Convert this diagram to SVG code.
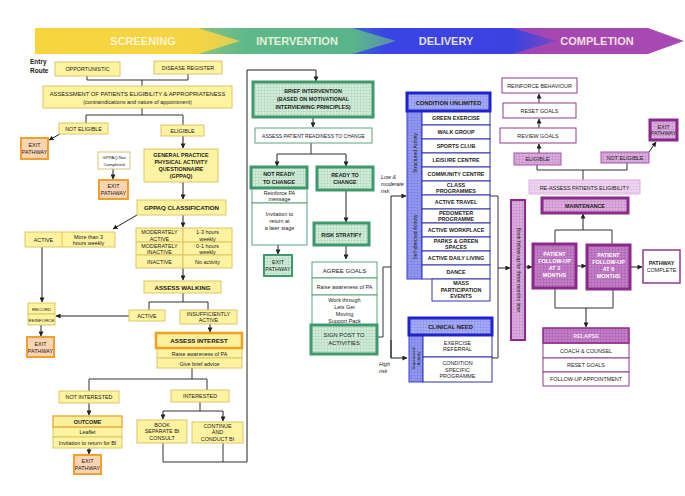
<svg xmlns="http://www.w3.org/2000/svg" width="685" height="496" viewBox="0 0 685 496">
<defs>
<style>
.t{font-family:'Liberation Sans',Arial,sans-serif;font-size:5.4px;text-anchor:middle;fill:#222}
.b{font-weight:bold}
.s{font-size:4.4px}
.hd{font-family:'Liberation Sans',Arial,sans-serif;font-size:11px;font-weight:bold;text-anchor:middle;fill:#fffbe6;opacity:.85}
.ln{fill:none;stroke:#333;stroke-width:1}
.ar{fill:none;stroke:#222;stroke-width:1;marker-end:url(#ah)}
.y{fill:#fdf3a0;stroke:#dcc766;stroke-width:1}
.yo{fill:#fdf09a;stroke:#f0a020;stroke-width:2.5}
.ex{fill:#fbd4b2;stroke:#f0a030;stroke-width:2}
.gw{fill:#fff;stroke:#5aa47e;stroke-width:1}
.gt{fill:url(#gG);stroke:#3e9a6c;stroke-width:3}
.bw{fill:#fff;stroke:#3434a6;stroke-width:1}
.bt{fill:url(#gB);stroke:#1e22d0;stroke-width:3}
.bs{fill:url(#gBs);stroke:#3b3fd8;stroke-width:1}
.pw{fill:#fff;stroke:#8c3c8c;stroke-width:1}
.pt{fill:url(#gP);stroke:#8a2a8a;stroke-width:3}
.pd{fill:url(#gPd);stroke:#8a2a8a;stroke-width:3}
.pl{fill:url(#gPl);stroke:#dcb2e0;stroke-width:1}
.pm{fill:url(#gP);stroke:#a552aa;stroke-width:1}
</style>
<marker id="ah" viewBox="0 0 6 6" refX="5.5" refY="3" markerWidth="5" markerHeight="5" orient="auto"><path d="M0,0 L6,3 L0,6 z" fill="#222"/></marker>
<pattern id="gG" width="3" height="3" patternUnits="userSpaceOnUse"><rect width="3" height="3" fill="#d2ecd9"/><path d="M0,0.25H3M0.25,0V3" stroke="#9fd0b2" stroke-width="0.5"/></pattern>
<pattern id="gB" width="3" height="3" patternUnits="userSpaceOnUse"><rect width="3" height="3" fill="#a6acf2"/><path d="M0,0.25H3M0.25,0V3" stroke="#7c82e6" stroke-width="0.5"/></pattern>
<pattern id="gBs" width="3" height="3" patternUnits="userSpaceOnUse"><rect width="3" height="3" fill="#9298ee"/><path d="M0,0.25H3M0.25,0V3" stroke="#6f75e0" stroke-width="0.5"/></pattern>
<pattern id="gP" width="3" height="3" patternUnits="userSpaceOnUse"><rect width="3" height="3" fill="#dbaedd"/><path d="M0,0.25H3M0.25,0V3" stroke="#bb83c0" stroke-width="0.5"/></pattern>
<pattern id="gPd" width="3" height="3" patternUnits="userSpaceOnUse"><rect width="3" height="3" fill="#c37ec7"/><path d="M0,0.25H3M0.25,0V3" stroke="#a256a8" stroke-width="0.5"/></pattern>
<pattern id="gPl" width="3" height="3" patternUnits="userSpaceOnUse"><rect width="3" height="3" fill="#efd6f0"/><path d="M0,0.25H3M0.25,0V3" stroke="#dcb6e0" stroke-width="0.5"/></pattern>
<linearGradient id="lgY" x1="0" x2="1" y1="0" y2="0"><stop offset="0" stop-color="#f8d43e"/><stop offset="0.8" stop-color="#f5d444"/><stop offset="1" stop-color="#d8cf58"/></linearGradient>
<linearGradient id="lgG" x1="0" x2="1" y1="0" y2="0"><stop offset="0" stop-color="#8cc47e"/><stop offset="0.25" stop-color="#5fb88a"/><stop offset="0.8" stop-color="#58b48c"/><stop offset="1" stop-color="#5a8ab8"/></linearGradient>
<linearGradient id="lgB" x1="0" x2="1" y1="0" y2="0"><stop offset="0" stop-color="#3a70c8"/><stop offset="0.2" stop-color="#3a44e4"/><stop offset="0.8" stop-color="#3c42e0"/><stop offset="1" stop-color="#7a48c0"/></linearGradient>
<linearGradient id="lgP" x1="0" x2="1" y1="0" y2="0"><stop offset="0" stop-color="#8a46c0"/><stop offset="0.25" stop-color="#a646b0"/><stop offset="1" stop-color="#a84ab4"/></linearGradient>
</defs>
<rect width="685" height="496" fill="#fff"/>

<g id="banner">
<polygon points="500,28 648,28 684,41 648,54 500,54 520,41" fill="url(#lgP)"/>
<polygon points="345,28 512,28 556,41 512,54 345,54 365,41" fill="url(#lgB)"/>
<polygon points="195,28 352,28 396,41 352,54 195,54 215,41" fill="url(#lgG)"/>
<polygon points="35,28 198,28 240,41 198,54 35,54" fill="url(#lgY)"/>
<text class="hd" x="143" y="45">SCREENING</text>
<text class="hd" x="297" y="45">INTERVENTION</text>
<text class="hd" x="446" y="45">DELIVERY</text>
<text class="hd" x="597" y="45">COMPLETION</text>
</g>

<g id="connectors">
<path class="ln" d="M87,76V80H188V74M142,80V86"/>
<path class="ln" d="M142,108V115M86,123V115H183V125"/>
<path class="ar" d="M60,134L49,140"/>
<path class="ar" d="M183,136V148"/>
<path class="ar" d="M113,169V179"/>
<path class="ar" d="M183,182V199"/>
<path class="ar" d="M137,215L113,229"/>
<path class="ar" d="M183,215V227"/>
<path class="ar" d="M183,268V280"/>
<path class="ln" d="M183,293V302M149,310V302H208V310"/>
<path class="ar" d="M129,316H56"/>
<path class="ar" d="M42,247V302"/>
<path class="ar" d="M41,325V336"/>
<path class="ar" d="M210,324V332"/>
<path class="ln" d="M192,368V379H89V391M192,379H207V390"/>
<path class="ar" d="M89,403V415"/>
<path class="ar" d="M89,448V454"/>
<path class="ln" d="M200,402V411H163M200,411H223"/>
<path class="ar" d="M163,411V419"/>
<path class="ar" d="M223,411V421"/>
<path class="ln" d="M163,443V462H247M223,443V462"/>
<path class="ar" d="M247,462V70H316V81"/>
<path class="ar" d="M313,117V127"/>
<path class="ln" d="M311,143V154H277M311,154H346"/>
<path class="ar" d="M277,154V166"/>
<path class="ar" d="M346,154V166"/>
<path class="ar" d="M278,245V254"/>
<path class="ar" d="M346,190V222"/>
<path class="ar" d="M346,245V259"/>
<path class="ln" d="M377,337H383V267H391"/>
<path class="ar" d="M391,358V196H406"/>
<path class="ar" d="M391,340V358H407"/>
<path class="ln" d="M490,196H498V358H492"/>
<path class="ar" d="M498,268H510"/>
<path class="ar" d="M525,267H532"/>
<path class="ar" d="M576,266H586"/>
<path class="ar" d="M630,267H642"/>
<path class="ln" d="M555,244V230H612V245"/>
<path class="ar" d="M583,230V214"/>
<path class="ln" d="M555,288V308H613V289"/>
<path class="ar" d="M586,308V327"/>
<path class="ln" d="M583,180V170M537,165V170H627V163"/>
<path class="ar" d="M649,152L656,142"/>
<path class="ar" d="M539,153V144"/>
<path class="ar" d="M539,128V119"/>
<path class="ar" d="M539,103V94"/>
</g>

<g id="entry-route">
<text class="t b" x="30" y="64" style="text-anchor:start;font-size:6.5px">Entry</text>
<text class="t b" x="30" y="73" style="text-anchor:start;font-size:6.5px">Route</text>
</g>
<g id="opportunistic"><rect class="y" x="55" y="62" width="65" height="14"/><text class="t" x="87.5" y="71">OPPORTUNISTIC</text></g>
<g id="disease-register"><rect class="y" x="154" y="61" width="68" height="13"/><text class="t" x="188" y="69.5">DISEASE REGISTER</text></g>
<g id="assessment"><rect class="y" x="43" y="86" width="189" height="22"/><text class="t" x="137.5" y="95.5" style="font-size:5.8px">ASSESSMENT OF PATIENTS ELIGIBILITY &amp; APPROPRIATENESS</text><text class="t" x="137.5" y="103.5">(contraindications and nature of appointment)</text></g>
<g id="not-eligible"><rect class="y" x="59" y="123" width="49" height="11"/><text class="t" x="83.5" y="130.5">NOT ELIGIBLE</text></g>
<g id="eligible"><rect class="y" x="161" y="125" width="43" height="11"/><text class="t" x="182.5" y="132.5">ELIGIBLE</text></g>
<g id="exit1"><rect class="ex" x="21" y="138" width="27" height="21"/><text class="t" x="34.5" y="147">EXIT</text><text class="t" x="34.5" y="154">PATHWAY</text></g>
<g id="gppaq"><rect class="y" x="144" y="149" width="74" height="33"/><text class="t b" x="181" y="157">GENERAL PRACTICE</text><text class="t b" x="181" y="164">PHYSICAL ACTIVITY</text><text class="t b" x="181" y="171">QUESTIONNAIRE</text><text class="t b" x="181" y="178">(GPPAQ)</text></g>
<g id="gppaq-not"><rect x="98" y="152" width="32" height="17" fill="#fff" stroke="#d8c27a"/><text class="t s" x="114" y="159">GPPAQ Not</text><text class="t s" x="114" y="165.5">Completed</text></g>
<g id="exit2"><rect class="ex" x="99" y="180" width="29" height="19"/><text class="t" x="113.5" y="188">EXIT</text><text class="t" x="113.5" y="195">PATHWAY</text></g>
<g id="gppaq-class"><rect class="y" x="137" y="200" width="89" height="15"/><text class="t b" x="181.5" y="210" style="font-size:6.2px">GPPAQ CLASSIFICATION</text></g>
<g id="active-more"><rect class="y" x="25" y="232" width="90" height="15"/><line x1="62" y1="232" x2="62" y2="247" stroke="#dcc766"/><text class="t" x="43.5" y="241.5">ACTIVE</text><text class="t" x="88.5" y="238.5">More than 3</text><text class="t" x="88.5" y="245">hours weekly</text></g>
<g id="classification">
<rect class="y" x="136" y="228" width="47" height="14"/><rect class="y" x="183" y="228" width="49" height="14"/>
<rect class="y" x="136" y="242" width="47" height="13"/><rect class="y" x="183" y="242" width="49" height="13"/>
<rect class="y" x="136" y="255" width="47" height="13"/><rect class="y" x="183" y="255" width="49" height="13"/>
<text class="t" x="159.5" y="234">MODERATELY</text><text class="t" x="159.5" y="240.5">ACTIVE</text>
<text class="t" x="207.5" y="234">1-3 hours</text><text class="t" x="207.5" y="240.5">weekly</text>
<text class="t" x="159.5" y="247.5">MODERATELY</text><text class="t" x="159.5" y="253.5">INACTIVE</text>
<text class="t" x="207.5" y="247.5">0-1 hours</text><text class="t" x="207.5" y="253.5">weekly</text>
<text class="t" x="159.5" y="263.5">INACTIVE</text><text class="t" x="207.5" y="263.5">No activity</text>
</g>
<g id="assess-walking"><rect class="y" x="144" y="281" width="77" height="12"/><text class="t b" x="182.5" y="289.5" style="font-size:6.2px">ASSESS WALKING</text></g>
<g id="walk-active"><rect class="y" x="129" y="310" width="36" height="11"/><text class="t" x="147" y="317.5">ACTIVE</text></g>
<g id="insufficiently"><rect class="y" x="180" y="310" width="57" height="14"/><text class="t" x="208.5" y="316">INSUFFICIENTLY</text><text class="t" x="208.5" y="322">ACTIVE</text></g>
<g id="record"><rect class="y" x="28" y="303" width="27" height="11"/><rect class="y" x="28" y="314" width="27" height="11"/><text class="t s" x="41.5" y="310.5">RECORD</text><text class="t s" x="41.5" y="321.5">REINFORCE</text></g>
<g id="exit3"><rect class="ex" x="27" y="337" width="27" height="20"/><text class="t" x="40.5" y="345.5">EXIT</text><text class="t" x="40.5" y="352.5">PATHWAY</text></g>
<g id="assess-interest"><rect class="y" x="157" y="348" width="85" height="10"/><rect class="y" x="157" y="358" width="85" height="10"/><rect class="yo" x="156" y="333" width="86" height="15"/><text class="t b" x="199" y="343" style="font-size:6.2px">ASSESS INTEREST</text><text class="t" x="199.5" y="355.5">Raise awareness of PA</text><text class="t" x="199.5" y="365.5">Give brief advice</text></g>
<g id="not-interested"><rect class="y" x="59" y="391" width="60" height="12"/><text class="t" x="89" y="399">NOT INTERESTED</text></g>
<g id="interested"><rect class="y" x="171" y="390" width="58" height="12"/><text class="t" x="200" y="398">INTERESTED</text></g>
<g id="outcome"><rect class="y" x="53" y="427" width="69" height="10"/><rect class="y" x="53" y="437" width="69" height="11"/><rect x="53" y="416" width="69" height="11" fill="#fdf09a" stroke="#eeae46" stroke-width="1.5"/><text class="t b" x="87.5" y="424">OUTCOME</text><text class="t" x="87.5" y="434">Leaflet</text><text class="t" x="87.5" y="444.5">Invitation to return for BI</text></g>
<g id="exit4"><rect class="ex" x="74" y="455" width="27" height="19"/><text class="t" x="87.5" y="463">EXIT</text><text class="t" x="87.5" y="470">PATHWAY</text></g>
<g id="book"><rect class="y" x="137" y="420" width="50" height="23"/><text class="t" x="162" y="426.5">BOOK</text><text class="t" x="162" y="433">SEPARATE BI</text><text class="t" x="162" y="439.5">CONSULT</text></g>
<g id="continue"><rect class="y" x="192" y="422" width="51" height="21"/><text class="t" x="217.5" y="428">CONTINUE</text><text class="t" x="217.5" y="434">AND</text><text class="t" x="217.5" y="440.5">CONDUCT BI</text></g>

<g id="brief-intervention"><rect class="gt" x="253" y="82" width="120" height="35"/><text class="t b" x="313" y="93">BRIEF INTERVENTION</text><text class="t b" x="313" y="101">(BASED ON MOTIVATIONAL</text><text class="t b" x="313" y="109">INTERVIEWING PRINCIPLES)</text></g>
<g id="readiness"><rect class="gw" x="255" y="128" width="117" height="15"/><text class="t" x="313.5" y="137.5" style="font-size:5px">ASSESS PATIENT READINESS TO CHANGE</text></g>
<g id="not-ready"><rect class="gw" x="252" y="188" width="55" height="15"/><rect class="gw" x="252" y="203" width="55" height="42"/><rect class="gt" x="251" y="167" width="56" height="21"/><text class="t b" x="279" y="176">NOT READY</text><text class="t b" x="279" y="183.5">TO CHANGE</text><text class="t" x="279.5" y="194.5">Reinforce PA</text><text class="t" x="279.5" y="201">message</text><text class="t" x="279.5" y="216">Invitation to</text><text class="t" x="279.5" y="223">return at</text><text class="t" x="279.5" y="230">a later stage</text></g>
<g id="exit5"><rect x="264" y="255" width="28" height="21" fill="url(#gG)" stroke="#3e9a6c" stroke-width="2"/><text class="t" x="278" y="264">EXIT</text><text class="t" x="278" y="271">PATHWAY</text></g>
<g id="ready"><rect class="gt" x="317" y="167" width="56" height="23"/><text class="t b" x="345" y="176.5">READY TO</text><text class="t b" x="345" y="184">CHANGE</text></g>
<g id="risk-stratify"><rect class="gt" x="314" y="223" width="55" height="22"/><text class="t b" x="341.5" y="236.5">RISK STRATIFY</text></g>
<g id="agree-goals"><rect class="gw" x="312" y="262" width="65" height="16"/><rect class="gw" x="312" y="278" width="65" height="17"/><rect class="gw" x="312" y="295" width="65" height="30"/><text class="t" x="344.5" y="272.5" style="font-size:6px">AGREE GOALS</text><text class="t" x="344.5" y="289">Raise awareness of PA</text><text class="t" x="344.5" y="302">Work through</text><text class="t" x="344.5" y="309">Lets Get</text><text class="t" x="344.5" y="316">Moving</text><text class="t" x="344.5" y="323">Support Pack</text></g>
<g id="sign-post"><rect class="gt" x="311" y="325" width="66" height="29"/><text class="t" x="344" y="337" style="font-size:5.8px">SIGN POST TO</text><text class="t" x="344" y="345" style="font-size:5.8px">ACTIVITIES</text></g>
<g id="risk-labels">
<text class="t" x="381" y="179" style="text-anchor:start;font-style:italic">Low &amp;</text>
<text class="t" x="381" y="186" style="text-anchor:start;font-style:italic">moderate</text>
<text class="t" x="381" y="193" style="text-anchor:start;font-style:italic">risk</text>
<text class="t" x="379" y="366" style="text-anchor:start;font-style:italic">High</text>
<text class="t" x="379" y="373" style="text-anchor:start;font-style:italic">risk</text>
</g>

<g id="condition-unlimited">
<rect class="bs" x="407" y="111" width="15" height="168"/>
<text class="t" transform="translate(416.5,153) rotate(-90)" style="font-size:5px">Structured Activity</text>
<text class="t" transform="translate(416.5,237) rotate(-90)" style="font-size:5px">Self-directed Activity</text>
<rect class="bw" x="422" y="111" width="68" height="14"/><text class="t b" x="456" y="120">GREEN EXERCISE</text>
<rect class="bw" x="422" y="125" width="68" height="14"/><text class="t b" x="456" y="134">WALK GROUP</text>
<rect class="bw" x="422" y="139" width="68" height="14"/><text class="t b" x="456" y="148">SPORTS CLUB</text>
<rect class="bw" x="422" y="153" width="68" height="14"/><text class="t b" x="456" y="162">LEISURE CENTRE</text>
<rect class="bw" x="422" y="167" width="68" height="14"/><text class="t b" x="456" y="176">COMMUNITY CENTRE</text>
<rect class="bw" x="422" y="181" width="68" height="14"/><text class="t b" x="456" y="186.5">CLASS</text><text class="t b" x="456" y="192.5">PROGRAMMES</text>
<rect class="bw" x="422" y="195" width="68" height="14"/><text class="t b" x="456" y="204">ACTIVE TRAVEL</text>
<rect class="bw" x="422" y="209" width="68" height="14"/><text class="t b" x="456" y="214.5">PEDOMETER</text><text class="t b" x="456" y="220.5">PROGRAMME</text>
<rect class="bw" x="422" y="223" width="68" height="14"/><text class="t b" x="456" y="232">ACTIVE WORKPLACE</text>
<rect class="bw" x="422" y="237" width="68" height="14"/><text class="t b" x="456" y="242.5">PARKS &amp; GREEN</text><text class="t b" x="456" y="248.5">SPACES</text>
<rect class="bw" x="422" y="251" width="68" height="14"/><text class="t b" x="456" y="260">ACTIVE DAILY LIVING</text>
<rect class="bw" x="422" y="265" width="68" height="14"/><text class="t b" x="456" y="274">DANCE</text>
<rect class="bt" x="407" y="93" width="83" height="18"/><text class="t b" x="448.5" y="104.5" style="font-size:5.8px">CONDITION UNLIMITED</text>
</g>
<g id="mass-participation"><rect class="bw" x="432" y="279" width="58" height="22"/><text class="t b" x="461" y="285">MASS</text><text class="t b" x="461" y="291.5">PARTICIPATION</text><text class="t b" x="461" y="298">EVENTS</text></g>
<g id="clinical-need">
<rect class="bs" x="409" y="335" width="14" height="47"/>
<text class="t" transform="translate(415,358.5) rotate(-90)" style="font-size:4.4px">Supervised</text>
<text class="t" transform="translate(420,358.5) rotate(-90)" style="font-size:4.4px">Activity</text>
<rect class="bw" x="423" y="335" width="69" height="22"/><text class="t" x="457.5" y="344.5">EXERCISE</text><text class="t" x="457.5" y="351">REFERRAL</text>
<rect class="bw" x="423" y="357" width="69" height="25"/><text class="t" x="457.5" y="365">CONDITION</text><text class="t" x="457.5" y="371.5">SPECIFIC</text><text class="t" x="457.5" y="378">PROGRAMME</text>
<rect class="bt" x="409" y="318" width="83" height="17"/><text class="t b" x="450.5" y="328.5" style="font-size:5.8px">CLINICAL NEED</text>
</g>

<g id="book-followup"><rect x="511" y="200" width="14" height="140" fill="url(#gP)" stroke="#8a2a8a" stroke-width="2"/><text class="t" transform="translate(516.5,270) rotate(90)" style="font-size:5.2px">Book follow-up for three months time</text></g>
<g id="followup3"><rect class="pd" x="533" y="244" width="43" height="44"/><text class="t b" x="554.5" y="256" style="fill:#fff">PATIENT</text><text class="t b" x="554.5" y="263" style="fill:#fff">FOLLOW-UP</text><text class="t b" x="554.5" y="270" style="fill:#fff">AT 3</text><text class="t b" x="554.5" y="277" style="fill:#fff">MONTHS</text></g>
<g id="followup6"><rect class="pd" x="587" y="245" width="43" height="44"/><text class="t b" x="608.5" y="257" style="fill:#fff">PATIENT</text><text class="t b" x="608.5" y="264" style="fill:#fff">FOLLOW-UP</text><text class="t b" x="608.5" y="271" style="fill:#fff">AT 6</text><text class="t b" x="608.5" y="278" style="fill:#fff">MONTHS</text></g>
<g id="pathway-complete"><rect x="643" y="250" width="37" height="33" fill="#fff" stroke="#8c3c8c" stroke-width="1.5"/><text class="t b" x="661.5" y="265">PATHWAY</text><text class="t" x="661.5" y="272">COMPLETE</text></g>
<g id="relapse">
<rect class="pw" x="543" y="343" width="86" height="15"/><text class="t" x="586" y="352.5">COACH &amp; COUNSEL</text>
<rect class="pw" x="543" y="358" width="86" height="14"/><text class="t" x="586" y="367">RESET GOALS</text>
<rect class="pw" x="543" y="372" width="86" height="14"/><text class="t" x="586" y="381">FOLLOW-UP APPOINTMENT</text>
<rect x="543" y="328" width="86" height="15" fill="url(#gPd)" stroke="#8a2a8a" stroke-width="1.5"/><text class="t b" x="586" y="337.5" style="fill:#f6e6f6">RELAPSE</text>
</g>
<g id="maintenance"><rect class="pt" x="542" y="198" width="86" height="15"/><text class="t b" x="585" y="208">MAINTENANCE</text></g>
<g id="reassess"><rect class="pl" x="529" y="180" width="111" height="14"/><text class="t" x="584.5" y="189.5">RE-ASSESS PATIENTS ELIGIBILITY</text></g>
<g id="c-eligible"><rect class="pm" x="514" y="153" width="47" height="12"/><text class="t" x="537.5" y="161">ELIGIBLE</text></g>
<g id="c-not-eligible"><rect class="pm" x="601" y="152" width="48" height="11"/><text class="t" x="625" y="159.5">NOT ELIGIBLE</text></g>
<g id="exit6"><rect class="pt" x="650" y="120" width="27" height="20"/><text class="t" x="663.5" y="128.5">EXIT</text><text class="t" x="663.5" y="135">PATHWAY</text></g>
<g id="review-goals"><rect class="pw" x="500" y="128" width="76" height="15"/><text class="t" x="538" y="137.5">REVIEW GOALS</text></g>
<g id="reset-goals"><rect class="pw" x="503" y="103" width="73" height="15"/><text class="t" x="539.5" y="112.5">RESET GOALS</text></g>
<g id="reinforce-behaviour"><rect class="pw" x="502" y="78" width="75" height="15"/><text class="t" x="539.5" y="87.5">REINFORCE BEHAVIOUR</text></g>
</svg>
